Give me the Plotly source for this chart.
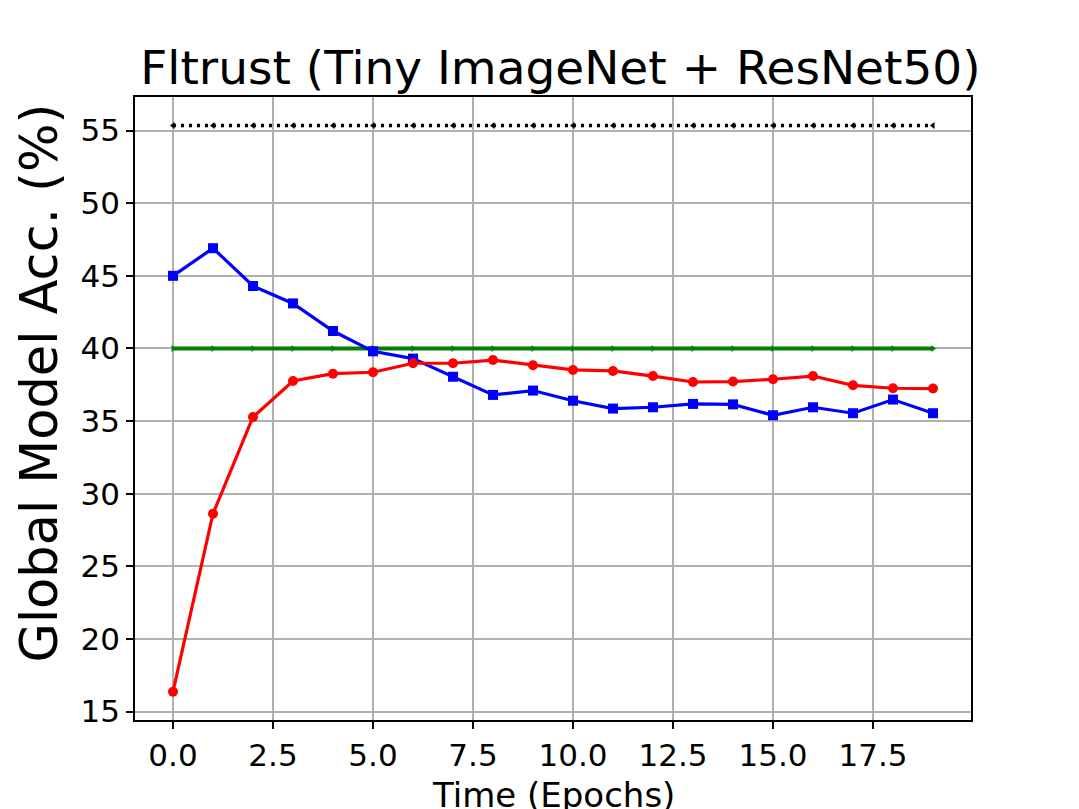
import plotly.graph_objects as go

epochs = list(range(20))
blue_acc = [45.0, 46.9, 44.3, 43.1, 41.2, 39.8, 39.3, 38.05, 36.8, 37.1,
            36.4, 35.86, 35.95, 36.18, 36.15, 35.4, 35.95, 35.54, 36.48, 35.54]
red_acc = [16.37, 28.62, 35.28, 37.76, 38.26, 38.36, 38.98, 38.98, 39.2, 38.84,
           38.52, 38.45, 38.1, 37.69, 37.72, 37.88, 38.1, 37.46, 37.26, 37.24]
green_acc = [40.0] * 20
black_acc = [55.35] * 20

x_ticks = [0.0, 2.5, 5.0, 7.5, 10.0, 12.5, 15.0, 17.5]
x_tick_text = ["0.0", "2.5", "5.0", "7.5", "10.0", "12.5", "15.0", "17.5"]
y_ticks = [15, 20, 25, 30, 35, 40, 45, 50, 55]

FONT = "DejaVu Sans"

fig = go.Figure()
fig.add_trace(go.Scatter(x=epochs, y=black_acc, mode="lines+markers",
                         line=dict(color="black", width=3.5, dash="3px,5px"),
                         marker=dict(symbol="triangle-left", size=6, color="black"),
                         showlegend=False))
fig.add_trace(go.Scatter(x=epochs, y=green_acc, mode="lines+markers",
                         line=dict(color="green", width=4),
                         marker=dict(symbol="triangle-right", size=6, color="green"),
                         showlegend=False))
fig.add_trace(go.Scatter(x=epochs, y=blue_acc, mode="lines+markers",
                         line=dict(color="blue", width=3.2),
                         marker=dict(symbol="square", size=10, color="blue"),
                         showlegend=False))
fig.add_trace(go.Scatter(x=epochs, y=red_acc, mode="lines+markers",
                         line=dict(color="red", width=3.2),
                         marker=dict(symbol="circle", size=10, color="red"),
                         showlegend=False))

fig.update_layout(
    width=1079, height=809,
    margin=dict(l=127, r=116, t=89, b=97),
    paper_bgcolor="white", plot_bgcolor="white",
    font=dict(family=FONT, color="black"),
    title=dict(text="Fltrust (Tiny ImageNet + ResNet50)", x=0.512, xanchor="center",
               y=0.926, yanchor="middle", font=dict(size=47, family=FONT)),
    xaxis=dict(range=[-0.95, 19.95], tickvals=x_ticks, ticktext=x_tick_text,
               showgrid=True, gridcolor="#b0b0b0", gridwidth=1.5,
               showline=True, linecolor="black", linewidth=1.5, mirror=True,
               ticks="outside", ticklen=7, tickwidth=1.5, tickcolor="black",
               tickfont=dict(size=31, family=FONT), zeroline=False),
    yaxis=dict(range=[14.42, 57.31], tickvals=y_ticks,
               showgrid=True, gridcolor="#b0b0b0", gridwidth=1.5,
               showline=True, linecolor="black", linewidth=1.5, mirror=True,
               ticks="outside", ticklen=7, tickwidth=1.5, tickcolor="black",
               tickfont=dict(size=31, family=FONT), zeroline=False),
    annotations=[
        dict(text="Time (Epochs)", xref="paper", yref="paper", x=0.5, y=-0.085,
             xanchor="center", yanchor="top", showarrow=False,
             font=dict(size=34, family=FONT)),
        dict(text="Global Model Acc. (%)", xref="paper", yref="paper", x=-0.1136, y=0.54,
             xanchor="center", yanchor="middle", textangle=-90, showarrow=False,
             font=dict(size=51, family=FONT)),
    ],
)

fig.write_html("out.html")
